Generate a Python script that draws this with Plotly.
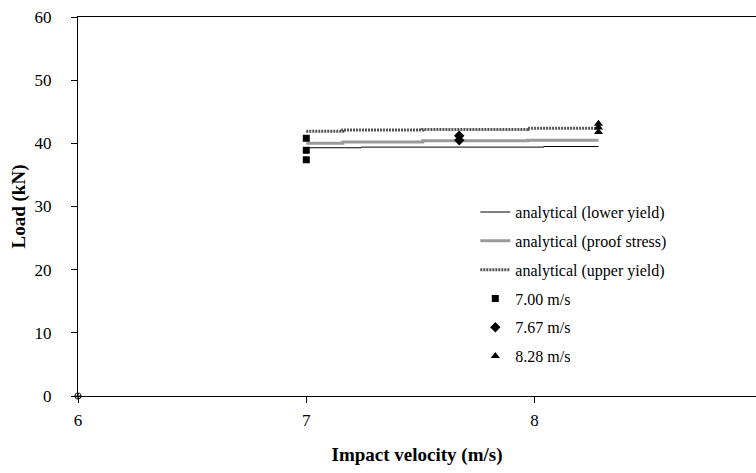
import plotly.graph_objects as go

# analytical curves (step-like), x in m/s, load in kN
lower_x = [7.00, 7.24, 8.04, 8.28]
lower_y = [39.3, 39.4, 39.5, 39.5]
proof_x = [7.00, 7.16, 7.51, 7.97, 8.28]
proof_y = [40.0, 40.2, 40.4, 40.5, 40.5]
upper_x = [7.00, 7.16, 7.51, 7.97, 8.28]
upper_y = [41.9, 42.1, 42.2, 42.4, 42.4]

# experimental points
v700_x = [7.00, 7.00, 7.00]
v700_y = [40.8, 38.9, 37.4]
v767_x = [7.67, 7.67]
v767_y = [41.2, 40.5]
v828_x = [8.28, 8.28, 8.28]
v828_y = [43.1, 42.5, 41.8]

origin_x = [6.0]
origin_y = [0.0]

fig = go.Figure()
fig.add_trace(go.Scatter(x=lower_x, y=lower_y, mode="lines", name="analytical (lower yield)",
                         legendgroup="a",
                         line=dict(color="black", width=1, shape="hv")))
fig.add_trace(go.Scatter(x=proof_x, y=proof_y, mode="lines", name="analytical (proof stress)",
                         legendgroup="b",
                         line=dict(color="#9a9a9a", width=3, shape="hv")))
fig.add_trace(go.Scatter(x=upper_x, y=upper_y, mode="lines", name="analytical (upper yield)",
                         legendgroup="c",
                         line=dict(color="#555555", width=3, shape="hv", dash="2px,1px")))
fig.add_trace(go.Scatter(x=v700_x, y=v700_y, mode="markers", name="7.00 m/s",
                         legendgroup="d",
                         marker=dict(symbol="square", color="black", size=7)))
fig.add_trace(go.Scatter(x=v767_x, y=v767_y, mode="markers", name="7.67 m/s",
                         legendgroup="e",
                         marker=dict(symbol="diamond", color="black", size=8)))
fig.add_trace(go.Scatter(x=v828_x, y=v828_y, mode="markers", name="8.28 m/s",
                         legendgroup="f",
                         marker=dict(symbol="triangle-up", color="black", size=8)))
fig.add_trace(go.Scatter(x=origin_x, y=origin_y, mode="markers", showlegend=False,
                         marker=dict(symbol="circle-cross-open", color="#222", size=6, line=dict(width=1.2)),
                         cliponaxis=False))

serif = "Liberation Serif, Times New Roman, serif"

fig.update_layout(
    width=756, height=473,
    margin=dict(l=78, r=0, t=17, b=77),
    paper_bgcolor="white", plot_bgcolor="white",
    font=dict(family=serif, color="black", size=17),
    showlegend=True,
    legend=dict(x=0.586, y=0.53, xanchor="left", yanchor="top",
                bgcolor="rgba(0,0,0,0)", font=dict(size=16, family=serif),
                traceorder="grouped", tracegroupgap=5),
    xaxis=dict(range=[6, 8.97], tickvals=[6, 7, 8], showgrid=False, zeroline=False,
               showline=True, linecolor="black", linewidth=1, mirror=True,
               ticks="outside", ticklen=6, tickcolor="black", ticklabelstandoff=3,
               title=dict(text="<b>Impact velocity (m/s)</b>", standoff=18,
                          font=dict(size=19, family=serif))),
    yaxis=dict(range=[0, 60], tickvals=[0, 10, 20, 30, 40, 50, 60], showgrid=False, zeroline=False,
               showline=True, linecolor="black", linewidth=1,
               ticks="outside", ticklen=6, tickcolor="black", ticklabelstandoff=16,
               title=dict(text="<b>Load (kN)</b>", standoff=3,
                          font=dict(size=19, family=serif))),
)

fig.write_html("out.html")
